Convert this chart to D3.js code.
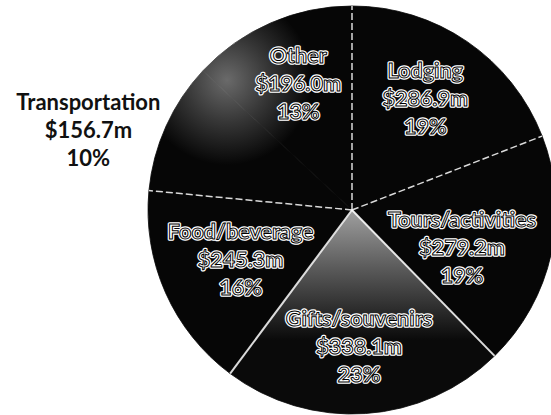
<!DOCTYPE html>
<html>
<head>
<meta charset="utf-8">
<script src="https://cdn.jsdelivr.net/npm/d3@7"></script>
<style>
  body { margin: 0; background: #fff; }
  svg { display: block; }
</style>
</head>
<body>
<script>
// Visitor spending by category ($ millions), clockwise from 12 o'clock
const categories = ["Lodging", "Tours/activities", "Gifts/souvenirs", "Food/beverage", "Transportation", "Other"];
const spending = [286.9, 279.2, 338.1, 245.3, 156.7, 196.0];

const width = 551, height = 415;
const cx = 352, cy = 210, radius = 204;

// small label nudges (Excel "best fit" placement), in px
const labelNudge = {
  "Lodging": [-3, 0],
  "Tours/activities": [-22, 9],
  "Gifts/souvenirs": [-2, 2],
  "Food/beverage": [12, -5],
  "Other": [0, -3],
  "Transportation": [-12, 34]
};
const outsideLabels = ["Transportation"];

const total = d3.sum(spending);
const fmtMoney = v => "$" + v.toFixed(1) + "m";
const fmtPct = v => Math.round(v / total * 100) + "%";

const svg = d3.select("body").append("svg")
  .attr("width", width)
  .attr("height", height);

const defs = svg.append("defs");

// scanned-look grey patches (coords relative to pie centre)
const gGifts = defs.append("linearGradient")
  .attr("id", "giftsFill")
  .attr("gradientUnits", "userSpaceOnUse")
  .attr("x1", 0).attr("y1", 0).attr("x2", 0).attr("y2", 130);
gGifts.append("stop").attr("offset", 0).attr("stop-color", "#a0a0a0");
gGifts.append("stop").attr("offset", 0.45).attr("stop-color", "#5a5a5a");
gGifts.append("stop").attr("offset", 1).attr("stop-color", "#0a0a0a");

const gUpper = defs.append("radialGradient")
  .attr("id", "upperFill")
  .attr("gradientUnits", "userSpaceOnUse")
  .attr("cx", -125).attr("cy", -130).attr("r", 85);
gUpper.append("stop").attr("offset", 0).attr("stop-color", "#6a6a6a");
gUpper.append("stop").attr("offset", 0.5).attr("stop-color", "#363636");
gUpper.append("stop").attr("offset", 1).attr("stop-color", "#060606");

const fillFor = name =>
  name === "Gifts/souvenirs" ? "url(#giftsFill)" :
  (name === "Other" || name === "Transportation") ? "url(#upperFill)" : "#060606";

const pie = d3.pie().sort(null).value(d => d.value);
const arcs = pie(categories.map((c, i) => ({ name: c, value: spending[i] })));

const arc = d3.arc().innerRadius(0).outerRadius(radius);
const labelArc = d3.arc().innerRadius(135).outerRadius(135);
const outerLabelArc = d3.arc().innerRadius(276).outerRadius(276);

const g = svg.append("g").attr("transform", `translate(${cx},${cy})`);

// slices, stroked with their own fill so no seams show between them
g.selectAll("path.slice")
  .data(arcs)
  .enter()
  .append("path")
  .attr("class", "slice")
  .attr("d", arc)
  .attr("fill", d => fillFor(d.data.name))
  .attr("stroke", d => fillFor(d.data.name))
  .attr("stroke-width", 0.8);

// slice separators (the Transportation/Other edge is not visible in the scan)
const solidEdge = name => name === "Gifts/souvenirs" || name === "Food/beverage";
g.selectAll("line.sep")
  .data(arcs.filter(d => d.data.name !== "Other"))
  .enter()
  .append("line")
  .attr("class", "sep")
  .attr("x1", 0).attr("y1", 0)
  .attr("x2", d => radius * Math.sin(d.startAngle))
  .attr("y2", d => -radius * Math.cos(d.startAngle))
  .attr("stroke", "#fff")
  .attr("stroke-width", d => solidEdge(d.data.name) ? 2 : 1.5)
  .attr("stroke-dasharray", d => solidEdge(d.data.name) ? null : "7,3")
  .attr("stroke-opacity", 0.85);

// labels
const lineH = 28;
const labels = g.selectAll("g.label")
  .data(arcs)
  .enter()
  .append("g")
  .attr("class", "label")
  .attr("transform", d => {
    const outside = outsideLabels.includes(d.data.name);
    const p = (outside ? outerLabelArc : labelArc).centroid(d);
    const n = labelNudge[d.data.name] || [0, 0];
    return `translate(${p[0] + n[0]},${p[1] + n[1]})`;
  });

labels.each(function(d) {
  const sel = d3.select(this);
  const outside = outsideLabels.includes(d.data.name);
  const lines = [d.data.name, fmtMoney(d.data.value), fmtPct(d.data.value)];
  const layers = outside ? ["plain"] : ["halo", "main"];
  layers.forEach(layer => {
    const t = sel.append("text")
      .attr("text-anchor", "middle")
      .style("font-family", "Lato, 'Open Sans', sans-serif")
      .style("font-weight", 700)
      .style("font-size", outside ? "22px" : "21.5px");
    if (layer === "plain") {
      t.attr("fill", "#111");
    } else if (layer === "halo") {
      t.attr("fill", "#fff").attr("stroke", "#fff").attr("stroke-width", 3.5)
        .attr("stroke-linejoin", "round");
    } else {
      t.attr("fill", "#fff").attr("stroke", "#000").attr("stroke-width", 1);
    }
    t.selectAll("tspan")
      .data(lines)
      .enter()
      .append("tspan")
      .attr("x", 0)
      .attr("y", (s, i) => (i - 1) * lineH + 7.5)
      .text(s => s);
  });
});
</script>
</body>
</html>
